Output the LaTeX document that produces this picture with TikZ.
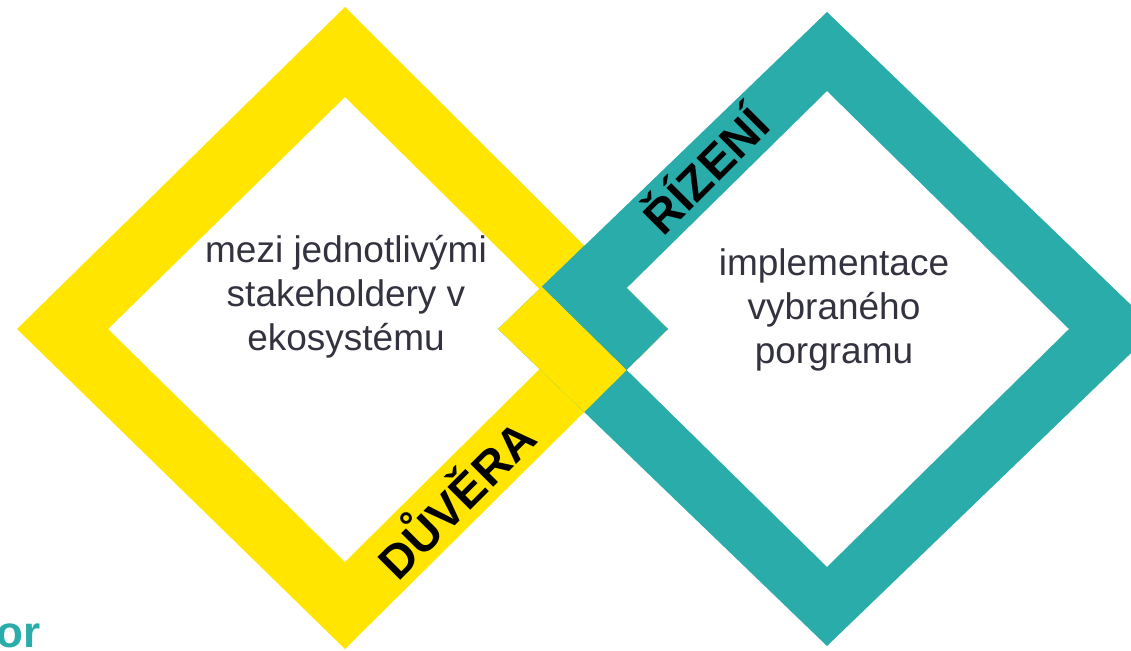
\documentclass[tikz,border=0pt]{standalone}
\usepackage{fontspec}
\setmainfont{Liberation Sans}
\definecolor{ybrand}{RGB}{255,229,0}
\definecolor{tbrand}{RGB}{42,172,170}
\definecolor{txtc}{RGB}{51,51,64}
\begin{document}
\begin{tikzpicture}[x=1pt,y=-1pt,
  bodytext/.style={font=\fontsize{37}{44}\selectfont, text=txtc, align=center, inner sep=0pt},
  bandlabel/.style={font=\fontsize{47}{56}\selectfont\bfseries, text=black, inner sep=0pt, rotate=45, anchor=base},
  cornertext/.style={font=\fontsize{44}{52}\selectfont\bfseries, text=tbrand, inner sep=0pt, anchor=base east}]
\clip (0,0) rectangle (1131,650);
% yellow frame
\coordinate (YT) at (345,7);
\coordinate (YL) at (17,329);
\coordinate (YB) at (345,649);
\coordinate (YR) at (668,329);
\coordinate (yT) at (345,97);
\coordinate (yL) at (108,329);
\coordinate (yB) at (345,562);
\coordinate (yR) at (580,329);
% teal frame
\coordinate (TT) at (827,12);
\coordinate (TL) at (498,329);
\coordinate (TB) at (827,646);
\coordinate (TR) at (1156,329);
\coordinate (tT) at (827,91);
\coordinate (tL) at (585,329);
\coordinate (tB) at (827,567);
\coordinate (tR) at (1069,329);
\fill[ybrand, even odd rule] (YT)--(YR)--(YB)--(YL)--cycle (yT)--(yR)--(yB)--(yL)--cycle;
\fill[tbrand, even odd rule] (TT)--(TR)--(TB)--(TL)--cycle (tT)--(tR)--(tB)--(tL)--cycle;
% interlocking
\coordinate (P1) at (intersection of TL--TT and tL--tB);
\coordinate (P2) at (intersection of YR--YB and tL--tB);
\coordinate (Xt) at (intersection of YT--YR and TL--TT);
\coordinate (Xb) at (intersection of YR--YB and TL--TB);
\fill[ybrand] (TL)--(P1)--(P2)--(Xb)--cycle;
\fill[tbrand] (P1)--(Xt)--(YR)--(P2)--cycle;
% texts
\node[bodytext] (ytext) at (346,297) {mezi jednotlivými\\stakeholdery v\\ekosystému};
\node[bodytext] (ttext) at (834,310) {implementace\\vybraného\\porgramu};
\node[bandlabel] (riz) at (718,183) {ŘÍZENÍ};
\node[bandlabel] (duv) at (469,512) {DŮVĚRA};
\node[cornertext] (orw) at (41,647) {or};
\end{tikzpicture}
\end{document}
